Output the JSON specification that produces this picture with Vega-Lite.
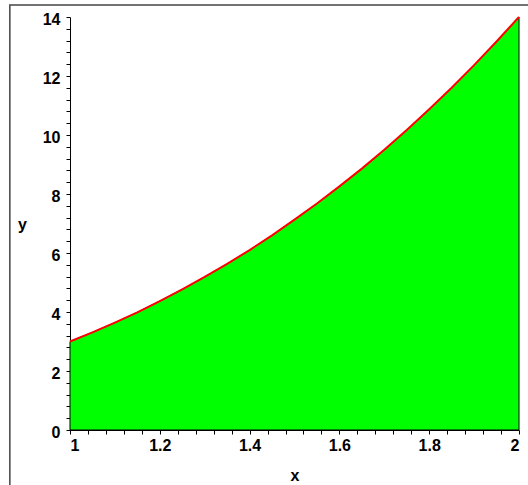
{
  "$schema": "https://vega.github.io/schema/vega-lite/v6.json",
  "autosize": {"type": "none"},
  "padding": {"left": 70, "top": 17, "right": 9, "bottom": 55},
  "width": 449,
  "height": 413,
  "background": "white",
  "config": {
    "view": {"stroke": null},
    "axis": {
      "grid": false,
      "domainColor": "black",
      "domainWidth": 1,
      "tickColor": "black",
      "tickSize": 4,
      "labelFont": "Liberation Sans",
      "labelFontWeight": "bold",
      "labelFontSize": 16,
      "labelColor": "black",
      "titleFont": "Liberation Sans",
      "titleFontWeight": "bold",
      "titleFontSize": 16,
      "titleColor": "black",
      "labelOverlap": false,
      "zindex": 1
    }
  },
  "datasets": {
    "curve": [
      {"x": 1.00, "y": 3.00},
      {"x": 1.05, "y": 3.31},
      {"x": 1.10, "y": 3.64},
      {"x": 1.15, "y": 3.99},
      {"x": 1.20, "y": 4.37},
      {"x": 1.25, "y": 4.77},
      {"x": 1.30, "y": 5.19},
      {"x": 1.35, "y": 5.63},
      {"x": 1.40, "y": 6.10},
      {"x": 1.45, "y": 6.60},
      {"x": 1.50, "y": 7.13},
      {"x": 1.55, "y": 7.68},
      {"x": 1.60, "y": 8.26},
      {"x": 1.65, "y": 8.86},
      {"x": 1.70, "y": 9.50},
      {"x": 1.75, "y": 10.17},
      {"x": 1.80, "y": 10.87},
      {"x": 1.85, "y": 11.60},
      {"x": 1.90, "y": 12.37},
      {"x": 1.95, "y": 13.17},
      {"x": 2.00, "y": 14.00}
    ],
    "frame": [{"x1": 0.866, "x2": 2.3, "y1": -3, "y2": 14.41}]
  },
  "layer": [
    {
      "data": {"name": "frame"},
      "mark": {"type": "rect", "fill": null, "stroke": "#444444", "strokeWidth": 1.5, "clip": false},
      "encoding": {
        "x": {"field": "x1", "type": "quantitative", "scale": {"domain": [1, 2], "nice": false, "zero": false}},
        "x2": {"field": "x2"},
        "y": {"field": "y1", "type": "quantitative", "scale": {"domain": [0, 14], "nice": false}},
        "y2": {"field": "y2"}
      }
    },
    {
      "data": {"name": "curve"},
      "mark": {"type": "area", "color": "#00ff00", "fillOpacity": 1, "stroke": "black", "strokeWidth": 1},
      "encoding": {
        "x": {
          "field": "x", "type": "quantitative",
          "scale": {"domain": [1, 2], "nice": false, "zero": false},
          "axis": {
            "values": [1, 1.04, 1.08, 1.12, 1.16, 1.2, 1.24, 1.28, 1.32, 1.36, 1.4, 1.44, 1.48, 1.52, 1.56, 1.6, 1.64, 1.68, 1.72, 1.76, 1.8, 1.84, 1.88, 1.92, 1.96, 2],
            "tickCount": 200,
            "format": "~g",
            "labelExpr": "abs(datum.value * 5 - round(datum.value * 5)) < 0.001 ? datum.label : ''",
            "labelPadding": 3,
            "title": "x",
            "titlePadding": 14
          }
        },
        "y": {
          "field": "y", "type": "quantitative",
          "scale": {"domain": [0, 14], "nice": false},
          "axis": {
            "values": [0, 0.4, 0.8, 1.2, 1.6, 2, 2.4, 2.8, 3.2, 3.6, 4, 4.4, 4.8, 5.2, 5.6, 6, 6.4, 6.8, 7.2, 7.6, 8, 8.4, 8.8, 9.2, 9.6, 10, 10.4, 10.8, 11.2, 11.6, 12, 12.4, 12.8, 13.2, 13.6, 14],
            "tickCount": 200,
            "format": "~g",
            "labelExpr": "abs(datum.value / 2 - round(datum.value / 2)) < 0.001 ? datum.label : ''",
            "labelPadding": 6,
            "labelOffset": 2,
            "title": "y",
            "titleAngle": 0,
            "titleX": -48,
            "titleY": 212,
            "titleAlign": "center",
            "titleBaseline": "alphabetic"
          }
        }
      }
    },
    {
      "data": {"name": "curve"},
      "mark": {"type": "line", "color": "red", "strokeWidth": 2},
      "encoding": {
        "x": {"field": "x", "type": "quantitative", "scale": {"domain": [1, 2], "nice": false, "zero": false}},
        "y": {"field": "y", "type": "quantitative", "scale": {"domain": [0, 14], "nice": false}}
      }
    }
  ]
}
